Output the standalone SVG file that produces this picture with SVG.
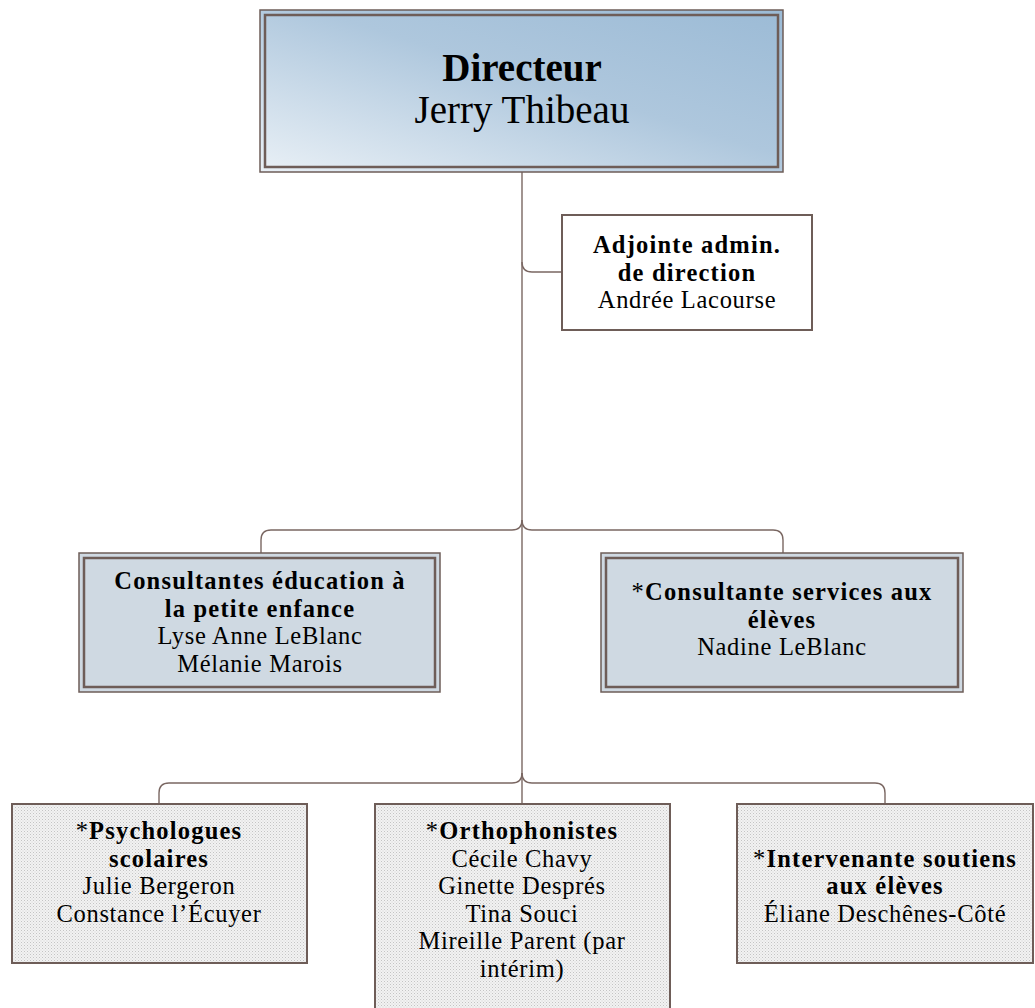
<svg xmlns="http://www.w3.org/2000/svg" width="1035" height="1008" viewBox="0 0 1035 1008">
<defs>
<linearGradient id="gTop" x1="0" y1="1" x2="1" y2="0">
<stop offset="0" stop-color="#e9f0f6"/>
<stop offset="0.55" stop-color="#aec7dd"/>
<stop offset="1" stop-color="#9cbbd6"/>
</linearGradient>
<pattern id="dots" width="3" height="3" patternUnits="userSpaceOnUse">
<rect width="3" height="3" fill="#f2f2f2"/>
<rect width="1" height="1" fill="#c4c4c4"/>
<rect x="1.5" y="1.5" width="1" height="1" fill="#d4d4d4"/>
</pattern>
</defs>
<style>
.t{font-family:"Liberation Serif","Times New Roman",serif;fill:#000;text-anchor:middle}
.b{font-weight:bold;font-size:24.5px;letter-spacing:1.2px}
.r{font-size:24.5px;letter-spacing:0.7px}
.s{font-weight:normal}
.big{font-size:39px}
.line{fill:none;stroke:#7a6762;stroke-width:1.4}
.outer{stroke:#6e5d58;stroke-width:1.5}
.inner{fill:none;stroke:#6e5d58;stroke-width:2.5}
.single{stroke:#6e5d58;stroke-width:2}
</style>
<rect width="1035" height="1008" fill="#fff"/>
<g id="connectors">
<path class="line" d="M522 172 V804"/>
<path class="line" d="M522 262 Q522 272 532 272 H562"/>
<path class="line" d="M522 520 Q522 530 512 530 H271 Q261 530 261 540 V553"/>
<path class="line" d="M522 520 Q522 530 532 530 H773 Q783 530 783 540 V553"/>
<path class="line" d="M522 773 Q522 783 512 783 H169 Q159 783 159 793 V804"/>
<path class="line" d="M522 773 Q522 783 532 783 H875 Q885 783 885 793 V804"/>
</g>
<g id="directeur">
<rect class="outer" x="260" y="10" width="523" height="162" fill="url(#gTop)"/>
<rect class="inner" x="265" y="15" width="513" height="152"/>
<text class="t big" x="522" y="81" font-weight="bold">Directeur</text>
<text class="t big" x="522" y="123">Jerry Thibeau</text>
</g>
<g id="adjointe">
<rect class="single" x="562" y="215" width="250" height="115" fill="#fff"/>
<text class="t b" x="687" y="253">Adjointe admin.</text>
<text class="t b" x="687" y="280.5">de direction</text>
<text class="t r" x="687" y="308">Andrée Lacourse</text>
</g>
<g id="consultantes-petite-enfance">
<rect class="outer" x="79" y="553" width="361" height="139" fill="#cfd9e2"/>
<rect class="inner" x="84" y="558" width="351" height="129"/>
<text class="t b" x="260" y="589">Consultantes éducation à</text>
<text class="t b" x="260" y="616.5">la petite enfance</text>
<text class="t r" x="260" y="644">Lyse Anne LeBlanc</text>
<text class="t r" x="260" y="671.5">Mélanie Marois</text>
</g>
<g id="consultante-services">
<rect class="outer" x="601" y="553" width="362" height="139" fill="#cfd9e2"/>
<rect class="inner" x="606" y="558" width="352" height="129"/>
<text class="t b" x="782" y="600"><tspan class="s">*</tspan>Consultante services aux</text>
<text class="t b" x="782" y="627.5">élèves</text>
<text class="t r" x="782" y="655">Nadine LeBlanc</text>
</g>
<g id="psychologues">
<rect class="single" x="12" y="804" width="295" height="159" fill="url(#dots)"/>
<text class="t b" x="159" y="839"><tspan class="s">*</tspan>Psychologues</text>
<text class="t b" x="159" y="866.5">scolaires</text>
<text class="t r" x="159" y="894">Julie Bergeron</text>
<text class="t r" x="159" y="921.5">Constance l’Écuyer</text>
</g>
<g id="orthophonistes">
<rect class="single" x="375" y="804" width="295" height="214" fill="url(#dots)"/>
<text class="t b" x="522" y="839"><tspan class="s">*</tspan>Orthophonistes</text>
<text class="t r" x="522" y="866.5">Cécile Chavy</text>
<text class="t r" x="522" y="894">Ginette Després</text>
<text class="t r" x="522" y="921.5">Tina Souci</text>
<text class="t r" x="522" y="949">Mireille Parent (par</text>
<text class="t r" x="522" y="976.5">intérim)</text>
</g>
<g id="intervenante">
<rect class="single" x="737" y="804" width="296" height="159" fill="url(#dots)"/>
<text class="t b" x="885" y="866.5"><tspan class="s">*</tspan>Intervenante soutiens</text>
<text class="t b" x="885" y="894">aux élèves</text>
<text class="t r" x="885" y="921.5">Éliane Deschênes-Côté</text>
</g>
</svg>
